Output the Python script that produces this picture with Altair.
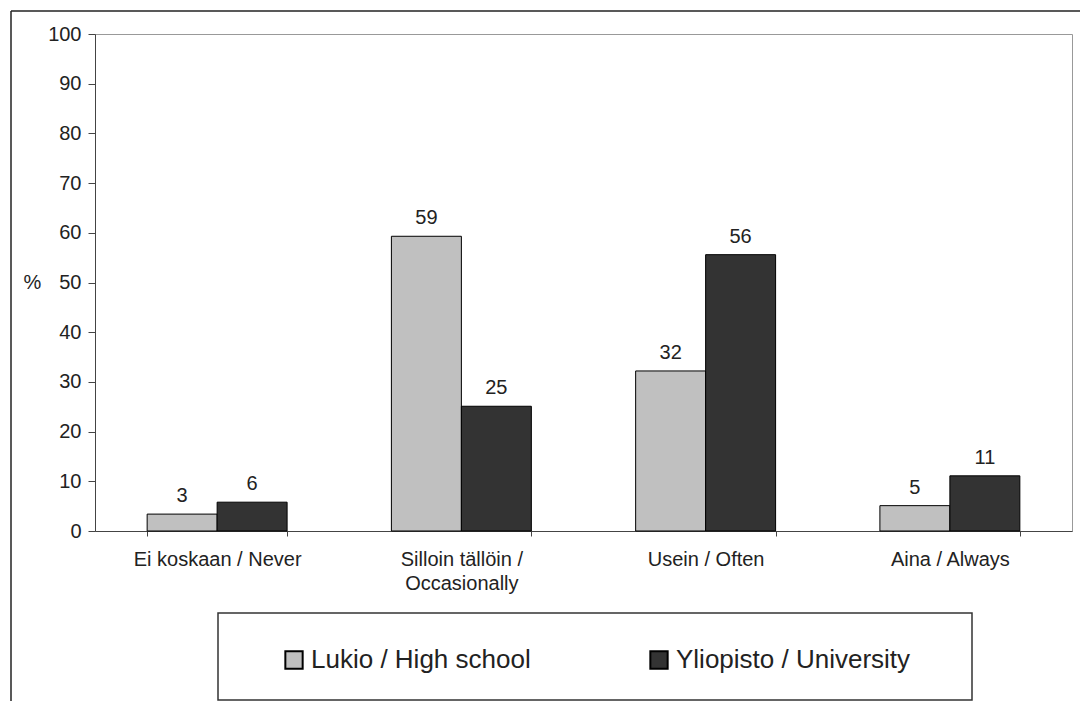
import altair as alt
import pandas as pd

categories = ["Ei koskaan / Never", "Silloin tällöin /\nOccasionally", "Usein / Often", "Aina / Always"]
series = ["Lukio / High school", "Yliopisto / University"]
lukio = [3.4, 59.3, 32.2, 5.1]
yliopisto = [5.8, 25.1, 55.6, 11.1]
lukio_labels = [3, 59, 32, 5]
yliopisto_labels = [6, 25, 56, 11]
colors = ["#c0c0c0", "#333333"]
y_ticks = list(range(0, 101, 10))

rows = []
for i, c in enumerate(categories):
    rows.append(dict(cat=c, series=series[0], value=lukio[i], label=str(lukio_labels[i])))
    rows.append(dict(cat=c, series=series[1], value=yliopisto[i], label=str(yliopisto_labels[i])))
df = pd.DataFrame(rows)

FONT = "Liberation Sans"
W, H = 977, 497
FS = 20

base = alt.Chart(df).encode(
    x=alt.X(
        "cat:N",
        sort=categories,
        scale=alt.Scale(paddingInner=0.427, paddingOuter=0.2135),
        axis=alt.Axis(
            title=None,
            labelAngle=0,
            tickBand="extent",
            tickSize=5,
            tickColor="#444",
            domainColor="#444",
            labelPadding=13,
            labelFont=FONT,
            labelFontSize=FS,
            labelColor="#222",
            labelLineHeight=24,
            labelExpr="split(datum.label, '\\n')",
        ),
    ),
    xOffset=alt.XOffset("series:N", sort=series),
)

bars = base.mark_bar(stroke="black", strokeWidth=1).encode(
    y=alt.Y(
        "value:Q",
        scale=alt.Scale(domain=[0, 100]),
        axis=alt.Axis(
            values=y_ticks,
            grid=False,
            tickSize=7,
            tickColor="#444",
            domainColor="#444",
            labelPadding=7,
            labelFont=FONT,
            labelFontSize=FS,
            labelColor="#222",
            title="%",
            titleAngle=0,
            titleX=-63,
            titleY=248,
            titleAlign="center",
            titleBaseline="middle",
            titleFont=FONT,
            titleFontSize=FS,
            titleFontWeight="normal",
            titleColor="#222",
        ),
    ),
    color=alt.Color(
        "series:N",
        sort=series,
        scale=alt.Scale(domain=series, range=colors),
        legend=alt.Legend(
            title=None,
            orient="none",
            direction="horizontal",
            legendX=186,
            legendY=613,
            symbolType="square",
            symbolSize=300,
            symbolStrokeColor="black",
            symbolStrokeWidth=2,
            symbolOpacity=1,
            labelFont=FONT,
            labelFontSize=26,
            labelColor="#222",
            labelOffset=4,
            labelLimit=600,
            columnPadding=115,
            padding=0,
        ),
    ),
)

text = base.mark_text(
    baseline="bottom", dy=-8, font=FONT, fontSize=FS, color="#222"
).encode(y="value:Q", text="label:N")

one = pd.DataFrame({"a": [0]})
legend_box = alt.Chart(one).mark_rect(
    fillOpacity=0, stroke="#333", strokeWidth=1.5
).encode(x=alt.value(123), x2=alt.value(877), y=alt.value(579), y2=alt.value(666))

outer_left = alt.Chart(one).mark_rule(color="#222", strokeWidth=1.5).encode(
    x=alt.value(-84), y=alt.value(-23), y2=alt.value(700)
)
outer_top = alt.Chart(one).mark_rule(color="#222", strokeWidth=1.5).encode(
    x=alt.value(-84), x2=alt.value(985), y=alt.value(-23)
)

chart = alt.layer(bars, text, legend_box, outer_left, outer_top).properties(
    width=W,
    height=H,
    autosize=alt.AutoSizeParams(type="none"),
    padding={"left": 87, "top": 26, "right": 8, "bottom": 170},
    background="white",
).configure_view(stroke="#999", strokeWidth=1)

chart.save("out.html", embed_options={"renderer": "svg", "actions": False})
